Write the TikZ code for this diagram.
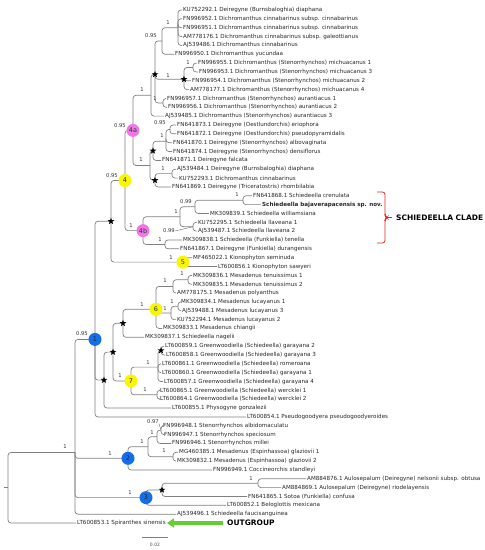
\documentclass[tikz,border=0pt]{standalone}
\usepackage{fontspec}
\setmainfont{DejaVu Sans}
\usetikzlibrary{shapes.geometric,arrows.meta}
\definecolor{brgray}{RGB}{128,128,128}
\definecolor{cyel}{RGB}{250,245,0}
\definecolor{cpink}{RGB}{240,120,230}
\definecolor{cblue}{RGB}{20,110,235}
\definecolor{cred}{RGB}{225,40,40}
\definecolor{cgreen}{RGB}{102,204,51}
\begin{document}
\begin{tikzpicture}[x=1pt,y=-1pt,
  branch/.style={draw=brgray, line width=0.7pt, rounded corners=3pt},
  lead/.style={draw=brgray, line width=0.5pt},
  leaf/.style={anchor=west, inner sep=1pt, font=\fontsize{5.6}{6}\selectfont, text=black!85},
  supp/.style={inner sep=0pt, font=\fontsize{5.2}{6}\selectfont, text=black!80},
  ccirc/.style={circle, minimum size=13pt, inner sep=0pt, font=\fontsize{6.5}{7}\selectfont},
  ycirc/.style={ccirc, fill=cyel, text=black!80},
  pcirc/.style={ccirc, fill=cpink, text=black!80},
  bcirc/.style={ccirc, fill=cblue, text=black!85},
  starn/.style={star, star points=5, star point ratio=2.4, fill=black, minimum size=7pt, inner sep=0pt},
  bigtxt/.style={anchor=west, inner sep=0pt, font=\fontsize{7.5}{8}\selectfont\bfseries, text=black}
]
\useasboundingbox (0,0) rectangle (485,550);

% ---------- internal nodes ----------
\coordinate (root0) at (4,487.7);
\coordinate (root) at (8,487.7);
\coordinate (nZ) at (75,452.4);
\coordinate (n1) at (95,339.4);
\coordinate (nU) at (111,221.3);
\coordinate (n4) at (125,180.5);
\coordinate (n4a) at (133,130.4);
\coordinate (nR) at (151,95.3);
\coordinate (nQ) at (155,74.4);
\coordinate (nA) at (162,41.0);
\coordinate (nC) at (178,27.7);
\coordinate (nMi) at (184,79.3);
\coordinate (n78) at (193,67.5);
\coordinate (nAu) at (163,102.9);
\coordinate (nS) at (150,165.5);
\coordinate (nT1) at (153,150.8);
\coordinate (nF) at (166,141.2);
\coordinate (nE) at (170,129.4);
\coordinate (nT2) at (155,180.3);
\coordinate (nG) at (172,173.6);
\coordinate (n4b) at (143,230.6);
\coordinate (nK3) at (180,216.8);
\coordinate (nK2) at (195,206.8);
\coordinate (nK1) at (243,200.2);
\coordinate (nK4) at (193,226.7);
\coordinate (nK5) at (165,244.4);
\coordinate (n5) at (183,262.1);
\coordinate (nV) at (104,380.1);
\coordinate (nW) at (113,352.1);
\coordinate (nX) at (123,323.3);
\coordinate (n6) at (156,309.3);
\coordinate (nM2) at (173,286.4);
\coordinate (nM1) at (188,279.8);
\coordinate (nM4) at (171,313.0);
\coordinate (nM3) at (178,306.3);
\coordinate (n7) at (131,380.9);
\coordinate (nG2) at (158,367.1);
\coordinate (nG1) at (161,350.5);
\coordinate (nG3) at (157,394.8);
\coordinate (n2) at (128,458.3);
\coordinate (nNx) at (148,446.7);
\coordinate (nNa) at (157,436.8);
\coordinate (nN48) at (161,430.1);
\coordinate (nNb) at (173,456.7);
\coordinate (n3) at (146,497.6);
\coordinate (nNc) at (162,489.9);
\coordinate (nNd) at (258,483.2);

% ---------- leaves ----------
\node[leaf] (L1) at (182,10.0) {KU752292.1 Deiregyne (Burnsbaloghia) diaphana};
\node[leaf] (L2) at (182,18.8) {FN996952.1 Dichromanthus cinnabarinus subsp. cinnabarinus};
\node[leaf] (L3) at (182,27.7) {FN996951.1 Dichromanthus cinnabarinus subsp. cinnabarinus};
\node[leaf] (L4) at (182,36.5) {AM778176.1 Dichromanthus cinnabarinus subsp. galeottianus};
\node[leaf] (L5) at (182,45.4) {AJ539486.1 Dichromanthus cinnabarinus};
\node[leaf] (L6) at (174,54.2) {FN996950.1 Dichromanthus yucundaa};
\node[leaf] (L7) at (197,63.1) {FN996955.1 Dichromanthus (Stenorrhynchos) michuacanus 1};
\node[leaf] (L8) at (198,71.9) {FN996953.1 Dichromanthus (Stenorrhynchos) michuacanus 3};
\node[leaf] (L9) at (191,80.8) {FN996954.1 Dichromanthus (Stenorrhynchos) michuacanus 2};
\node[leaf] (L10) at (189,89.6) {AM778177.1 Dichromanthus (Stenorrhynchos) michuacanus 4};
\node[leaf] (L11) at (166,98.5) {FN996957.1 Dichromanthus (Stenorrhynchos) aurantiacus 1};
\node[leaf] (L12) at (167,107.3) {FN996956.1 Dichromanthus (Stenorrhynchos) aurantiacus 2};
\node[leaf] (L13) at (164,116.1) {AJ539485.1 Dichromanthus (Stenorrhynchos) aurantiacus 3};
\node[leaf] (L14) at (176,125.0) {FN641873.1 Deiregyne (Oestlundorchis) eriophora};
\node[leaf] (L15) at (176,133.8) {FN641872.1 Deiregyne (Oestlundorchis) pseudopyramidalis};
\node[leaf] (L16) at (172,142.7) {FN641870.1 Deiregyne (Stenorrhynchos) albovaginata};
\node[leaf] (L17) at (172,151.5) {FN641874.1 Deiregyne (Stenorrhynchos) densiflorus};
\node[leaf] (L18) at (161,160.4) {FN641871.1 Deiregyne falcata};
\node[leaf] (L19) at (176,169.2) {AJ539484.1 Deiregyne (Burnsbaloghia) diaphana};
\node[leaf] (L20) at (178,178.1) {KU752293.1 Dichromanthus cinnabarinus};
\node[leaf] (L21) at (171,186.9) {FN641869.1 Deiregyne (Triceratostris) rhombilabia};
\node[leaf] (L22) at (252,195.8) {FN641868.1 Schiedeella crenulata};
\node[leaf] (L23) at (261,204.6) {\bfseries Schiedeella bajaverapacensis sp. nov.};
\node[leaf] (L24) at (209,213.4) {MK309839.1 Schiedeella williamsiana};
\node[leaf] (L25) at (197,222.3) {KU752295.1 Schiedeella llaveana 1};
\node[leaf] (L26) at (197,231.1) {AJ539487.1 Schiedeella llaveana 2};
\node[leaf] (L27) at (182,240.0) {MK309838.1 Schiedeella (Funkiella) tenella};
\node[leaf] (L28) at (179,248.8) {FN641867.1 Deiregyne (Funkiella) durangensis};
\node[leaf] (L29) at (192,257.7) {MF465022.1 Kionophyton seminuda};
\node[leaf] (L30) at (217,266.5) {LT600856.1 Kionophyton sawyeri};
\node[leaf] (L31) at (192,275.4) {MK309836.1 Mesadenus tenuissimus 1};
\node[leaf] (L32) at (192,284.2) {MK309835.1 Mesadenus tenuissimus 2};
\node[leaf] (L33) at (176,293.0) {AM778175.1 Mesadenus polyanthus};
\node[leaf] (L34) at (180,301.9) {MK309834.1 Mesadenus lucayanus 1};
\node[leaf] (L35) at (181,310.7) {AJ539488.1 Mesadenus lucayanus 3};
\node[leaf] (L36) at (176,319.6) {KU752294.1 Mesadenus lucayanus 2};
\node[leaf] (L37) at (162,328.4) {MK309833.1 Mesadenus chiangii};
\node[leaf] (L38) at (144,337.3) {MK309837.1 Schiedeella nagelii};
\node[leaf] (L39) at (164,346.1) {LT600859.1 Greenwoodiella (Schiedeella) garayana 2};
\node[leaf] (L40) at (165,355.0) {LT600858.1 Greenwoodiella (Schiedeella) garayana 3};
\node[leaf] (L41) at (161,363.8) {LT600861.1 Greenwoodiella (Schiedeella) romeroana};
\node[leaf] (L42) at (161,372.7) {LT600860.1 Greenwoodiella (Schiedeella) garayana 1};
\node[leaf] (L43) at (163,381.5) {LT600857.1 Greenwoodiella (Schiedeella) garayana 4};
\node[leaf] (L44) at (159,390.3) {LT600865.1 Greenwoodiella (Schiedeella) wercklei 1};
\node[leaf] (L45) at (159,399.2) {LT600864.1 Greenwoodiella (Schiedeella) wercklei 2};
\node[leaf] (L46) at (171,408.0) {LT600855.1 Physogyne gonzalezii};
\node[leaf] (L47) at (246,416.9) {LT600854.1 Pseudogoodyera pseudogoodyeroides};
\node[leaf] (L48) at (162,425.7) {FN996948.1 Stenorrhynchos albidomaculatu};
\node[leaf] (L49) at (163,434.6) {FN996947.1 Stenorrhynchos speciosum};
\node[leaf] (L50) at (171,443.4) {FN996946.1 Stenorrhynchos millei};
\node[leaf] (L51) at (178,452.3) {MG460385.1 Mesadenus (Espinhassoa) glaziovii 1};
\node[leaf] (L52) at (176,461.1) {MK309832.1 Mesadenus (Espinhassoa) glaziovii 2};
\node[leaf] (L53) at (212,469.9) {FN996949.1 Coccineorchis standleyi};
\node[leaf] (L54) at (306,478.8) {AM884876.1 Aulosepalum (Deiregyne) nelsonii subsp. obtusa};
\node[leaf] (L55) at (281,487.6) {AM884869.1 Aulosepalum (Deiregyne) riodelayensis};
\node[leaf] (L56) at (247,496.5) {FN641865.1 Sotoa (Funkiella) confusa};
\node[leaf] (L57) at (226,505.3) {LT600852.1 Beloglottis mexicana};
\node[leaf] (L58) at (176,514.2) {AJ539496.1 Schiedeella faucisanguinea};
\node[leaf] (L59) at (76,523.0) {LT600853.1 Spiranthes sinensis};

% ---------- branches ----------
\draw[branch] (root0) -- (root);
\foreach \p/\c in {root/nZ, root/L59.west, nZ/n1, nZ/n2, nZ/n3, nZ/L58.west,
  n1/nU, n1/nV, n1/L47.west, nU/n4, nU/n5, n4/n4a, n4/n4b, n4a/nR, n4a/nS,
  nR/nQ, nR/L13.west, nQ/nA, nQ/nMi, nQ/nAu, nA/nC, nA/L6.west,
  nC/L1.west, nC/L2.west, nC/L3.west, nC/L4.west, nC/L5.west,
  nMi/n78, nMi/L9.west, nMi/L10.west, n78/L7.west, n78/L8.west,
  nAu/L11.west, nAu/L12.west}
  \draw[branch] (\p) |- (\c);
\foreach \p/\c in {nS/nT1, nS/nT2, nT1/nF, nT1/L18.west, nF/nE, nF/L16.west, nF/L17.west,
  nE/L14.west, nE/L15.west, nT2/nG, nT2/L21.west, nG/L19.west, nG/L20.west,
  n4b/nK3, n4b/nK5, nK3/nK2, nK3/nK4, nK2/nK1, nK2/L24.west, nK1/L22.west, nK1/L23.west,
  nK4/L25.west, nK4/L26.west, nK5/L27.west, nK5/L28.west, n5/L29.west, n5/L30.west}
  \draw[branch] (\p) |- (\c);
\foreach \p/\c in {nV/nW, nV/L46.west, nW/nX, nW/n7, nX/n6, nX/L38.west,
  n6/nM2, n6/nM4, n6/L37.west, nM2/nM1, nM2/L33.west, nM1/L31.west, nM1/L32.west,
  nM4/nM3, nM4/L36.west, nM3/L34.west, nM3/L35.west,
  n7/nG2, n7/nG3, nG2/nG1, nG2/L41.west, nG2/L42.west, nG2/L43.west,
  nG1/L39.west, nG1/L40.west, nG3/L44.west, nG3/L45.west}
  \draw[branch] (\p) |- (\c);
\foreach \p/\c in {n2/nNx, n2/L53.west, nNx/nNa, nNx/nNb, nNa/nN48, nNa/L50.west,
  nN48/L48.west, nN48/L49.west, nNb/L51.west, nNb/L52.west,
  n3/nNc, n3/L57.west, nNc/nNd, nNc/L56.west, nNd/L54.west, nNd/L55.west}
  \draw[branch] (\p) |- (\c);

% ---------- support values ----------
\node[supp] (s1) at (168,23) {1};
\node[supp] (s2) at (151,36) {0.95};
\node[supp] (s3) at (188,63) {1};
\node[supp] (s4) at (168,76) {1};
\node[supp] (s5) at (155,98.5) {1};
\node[supp] (s6) at (142,90) {1};
\node[supp] (s7) at (120,126) {0.95};
\node[supp] (s8) at (160,123) {0.95};
\node[supp] (s9) at (162,136) {1};
\node[supp] (s10) at (141,160) {1};
\node[supp] (s11) at (163,169) {1};
\node[supp] (s12) at (176,212) {1};
\node[supp] (s13) at (186,202) {0.99};
\node[supp] (s14) at (237,195) {1};
\node[supp] (s15) at (169,231) {0.99};
\node[supp] (s16) at (160,240) {1};
\node[supp] (s17) at (131,226) {1};
\node[supp] (s18) at (112,176) {0.95};
\node[supp] (s19) at (171,258) {1};
\node[supp] (s20) at (182,274) {1};
\node[supp] (s21) at (165,281) {1};
\node[supp] (s22) at (172,302) {1};
\node[supp] (s23) at (165,309) {1};
\node[supp] (s24) at (142,305) {1};
\node[supp] (s25) at (120,376) {1};
\node[supp] (s26) at (148,363) {1};
\node[supp] (s27) at (145,390) {1};
\node[supp] (s28) at (82,334) {0.95};
\node[supp] (s29) at (65,447) {1};
\node[supp] (s30) at (110,454) {1};
\node[supp] (s31) at (142,442) {1};
\node[supp] (s32) at (152,433) {1};
\node[supp] (s33) at (164,451) {1};
\node[supp] (s34) at (153,421.5) {0.97};
\node[supp] (s35) at (130,493) {1};
\node[supp] (s36) at (251,479) {1};
\draw[lead] (s15.east) -- (nK4);
\draw[lead] (s34.south east) -- (nN48);

% ---------- stars ----------
\node[starn] (st1) at (nQ) {};
\node[starn] (st2) at (nMi) {};
\node[starn] (st3) at (nT1) {};
\node[starn] (st4) at (nT2) {};
\node[starn] (st5) at (nU) {};
\node[starn] (st6) at (nX) {};
\node[starn] (st7) at (nW) {};
\node[starn] (st8) at (nV) {};
\node[starn] (st9) at (nG1) {};
\node[starn] (st10) at (nNc) {};

% ---------- clade circles ----------
\node[pcirc] (c4a) at (n4a) {4a};
\node[ycirc] (c4) at (n4) {4};
\node[pcirc] (c4b) at (n4b) {4b};
\node[ycirc] (c5) at (n5) {5};
\node[ycirc] (c6) at (n6) {6};
\node[ycirc] (c7) at (n7) {7};
\node[bcirc] (c1) at (n1) {1};
\node[bcirc] (c2) at (n2) {2};
\node[bcirc] (c3) at (n3) {3};

% ---------- Schiedeella clade bracket ----------
\coordinate (bT) at (377,192);
\coordinate (bB) at (377,243);
\coordinate (bM) at (392,217.5);
\draw[cred, line width=0.8pt, rounded corners=2.5pt]
  (bT) -- (385,192) -- (385,215.5) -- (387,217.5) -- (385,219.5) -- (385,243) -- (bB);
\draw[cred, line width=0.8pt] (386,217.5) -- (bM);
\node[bigtxt] (clade) at (396,217.5) {SCHIEDEELLA CLADE};

% ---------- outgroup arrow ----------
\node[bigtxt] (og) at (227,523) {OUTGROUP};
\coordinate (gA) at (223,523);
\coordinate (gB) at (167,523);
\draw[cgreen, line width=3.5pt, -{Triangle[length=7pt,width=9pt]}] (gA) -- (gB);

% ---------- scale bar ----------
\coordinate (sbL) at (142,537);
\coordinate (sbR) at (168,537);
\draw[brgray, line width=0.7pt] (sbL) -- (sbR);
\node[inner sep=0pt, font=\fontsize{4.5}{5}\selectfont, text=black!70] (sbt) at (155,544.5) {0.02};
\end{tikzpicture}
\end{document}
